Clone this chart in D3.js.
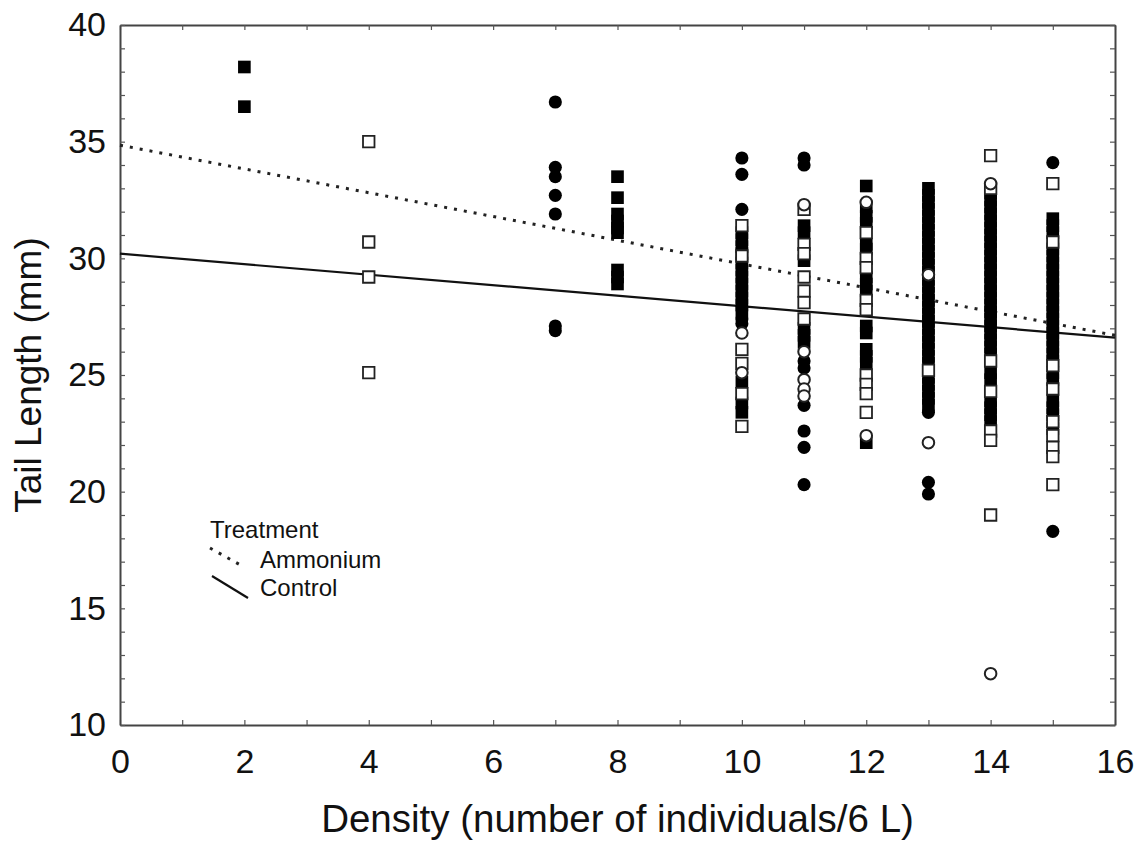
<!DOCTYPE html>
<html>
<head>
<meta charset="utf-8">
<script src="https://cdn.jsdelivr.net/npm/d3@7"></script>
<style>
    body { margin: 0; background: #fff; }
    svg { display: block; font-family: "Liberation Sans", Arial, sans-serif; }
</style>
</head>
<body>
<svg id="chart" width="1146" height="846"></svg>
<script>
// x = density (individuals / 6 L), y = tail length (mm)
var filledSquares = [
    [2, 38.2], [2, 36.5],
    [8, 33.5], [8, 32.6], [8, 31.9], [8, 31.6], [8, 31.3], [8, 31.1], [8, 29.5], [8, 29.2], [8, 28.9],
    [10, 31.1], [10, 30.8], [10, 30.5], [10, 30.2], [10, 29.8], [10, 29.5], [10, 29.2], [10, 28.9],
    [10, 28.6], [10, 28.3], [10, 28.0], [10, 27.7], [10, 24.7], [10, 23.8], [10, 23.4],
    [11, 31.4], [11, 31.1], [11, 29.9], [11, 27.0], [11, 26.7], [11, 26.4],
    [12, 33.1], [12, 32.2], [12, 31.8], [12, 31.5], [12, 30.6], [12, 30.4], [12, 29.2], [12, 28.9],
    [12, 28.6], [12, 27.1], [12, 26.8], [12, 26.1], [12, 25.8], [12, 25.5], [12, 22.1],
    [13, 33.0], [13, 32.7], [13, 32.4], [13, 32.1], [13, 31.8], [13, 31.5], [13, 31.2], [13, 30.9],
    [13, 30.6], [13, 30.3], [13, 30.0], [13, 29.7], [13, 29.4], [13, 29.1], [13, 28.8], [13, 28.5],
    [13, 28.2], [13, 27.9], [13, 27.6], [13, 27.3], [13, 27.0], [13, 26.7], [13, 26.4], [13, 26.1],
    [13, 25.8], [13, 25.5], [13, 25.2], [13, 24.9], [13, 24.6], [13, 24.3], [13, 24.0], [13, 23.7],
    [14, 32.8], [14, 32.5], [14, 32.2], [14, 31.9], [14, 31.6], [14, 31.3], [14, 31.0], [14, 30.7],
    [14, 30.4], [14, 30.1], [14, 29.8], [14, 29.5], [14, 29.2], [14, 28.9], [14, 28.6], [14, 28.3],
    [14, 28.0], [14, 27.7], [14, 27.4], [14, 27.1], [14, 26.8], [14, 26.5], [14, 26.2], [14, 25.9],
    [14, 25.1], [14, 24.8], [14, 23.9], [14, 23.6], [14, 23.3], [14, 23.0],
    [15, 31.7], [15, 31.4], [15, 31.1], [15, 30.4], [15, 30.1], [15, 29.8], [15, 29.5], [15, 29.2],
    [15, 28.9], [15, 28.6], [15, 28.3], [15, 28.0], [15, 27.7], [15, 27.4], [15, 27.1], [15, 26.8],
    [15, 26.5], [15, 26.2], [15, 25.9], [15, 25.6], [15, 25.1], [15, 24.8], [15, 23.9], [15, 23.6],
    [15, 23.3], [15, 22.7]
];

var openSquares = [
    [4, 35.0], [4, 30.7], [4, 29.2], [4, 25.1],
    [10, 31.4], [10, 30.1], [10, 26.1], [10, 25.5], [10, 24.2], [10, 22.8],
    [11, 32.1], [11, 30.6], [11, 30.2], [11, 29.2], [11, 28.6], [11, 28.1], [11, 27.4],
    [12, 31.1], [12, 30.0], [12, 29.6], [12, 28.2], [12, 27.8], [12, 25.0], [12, 24.6], [12, 24.2], [12, 23.4],
    [13, 25.2],
    [14, 34.4], [14, 33.0], [14, 25.6], [14, 24.3], [14, 22.6], [14, 22.2], [14, 19.0],
    [15, 33.2], [15, 30.7], [15, 25.4], [15, 24.4], [15, 23.0], [15, 22.4], [15, 21.9], [15, 21.5], [15, 20.3]
];

var filledCircles = [
    [7, 36.7], [7, 33.9], [7, 33.5], [7, 32.7], [7, 31.9], [7, 27.1], [7, 26.9],
    [10, 34.3], [10, 33.6], [10, 32.1], [10, 27.4], [10, 27.2],
    [11, 34.3], [11, 34.0], [11, 25.6], [11, 25.3], [11, 23.7], [11, 22.6], [11, 21.9], [11, 20.3],
    [13, 23.4], [13, 20.4], [13, 19.9],
    [15, 34.1], [15, 18.3]
];

var openCircles = [
    [10, 26.8], [10, 25.1],
    [11, 32.3], [11, 26.0], [11, 24.8], [11, 24.4], [11, 24.1],
    [12, 32.4], [12, 22.4],
    [13, 29.3], [13, 22.1],
    [14, 33.2], [14, 12.2]
];

// fitted regression lines, end points at density 0 and 16
var ammoniumFit = [[0, 34.85], [16, 26.7]];
var controlFit = [[0, 30.2], [16, 26.6]];

var xTicks = d3.range(0, 17, 1);
var yTicks = d3.range(10, 41, 1);

var svg = d3.select('#chart');
var plotLeft = 120, plotRight = 1115, plotTop = 25, plotBottom = 725;

var x = d3.scaleLinear().domain([0, 16]).range([plotLeft, plotRight]);
var y = d3.scaleLinear().domain([10, 40]).range([plotBottom, plotTop]);

svg.append('rect').attr('width', 1146).attr('height', 846).attr('fill', '#fff');

// frame + inward ticks on all four sides
function styleAxis(g)
{
    g.selectAll('.domain').attr('stroke', '#444').attr('stroke-width', 2);
    g.selectAll('.tick line').attr('stroke', '#555').attr('stroke-width', 1.2);
    g.selectAll('.tick text').attr('fill', '#111').attr('font-size', 34)
        .attr('font-family', '"Liberation Sans", Arial, sans-serif');
}

svg.append('g').attr('transform', 'translate(0,' + plotBottom + ')')
    .call(d3.axisBottom(x).tickValues(xTicks).tickSize(-5).tickSizeOuter(0).tickPadding(24)
        .tickFormat(function(d) { return d % 2 === 0 ? d : ''; }))
    .call(styleAxis);

svg.append('g').attr('transform', 'translate(0,' + plotTop + ')')
    .call(d3.axisTop(x).tickValues(xTicks).tickSize(-5).tickSizeOuter(0).tickFormat(''))
    .call(styleAxis);

svg.append('g').attr('transform', 'translate(' + plotLeft + ',0)')
    .call(d3.axisLeft(y).tickValues(yTicks).tickSize(-5).tickSizeOuter(0).tickPadding(14)
        .tickFormat(function(d) { return d % 5 === 0 ? d : ''; }))
    .call(styleAxis);

svg.append('g').attr('transform', 'translate(' + plotRight + ',0)')
    .call(d3.axisRight(y).tickValues(yTicks).tickSize(-5).tickSizeOuter(0).tickFormat(''))
    .call(styleAxis);

// regression lines
var line = d3.line()
    .x(function(d) { return x(d[0]); })
    .y(function(d) { return y(d[1]); });

svg.append('path').datum(ammoniumFit).attr('d', line)
    .attr('fill', 'none').attr('stroke', '#222').attr('stroke-width', 3)
    .attr('stroke-dasharray', '3,7');

svg.append('path').datum(controlFit).attr('d', line)
    .attr('fill', 'none').attr('stroke', '#111').attr('stroke-width', 2.2);

// points
function drawPoints(data, type, size, fill, stroke, strokeWidth)
{
    svg.append('g').selectAll('path').data(data).enter().append('path')
        .attr('transform', function(d) { return 'translate(' + x(d[0]) + ',' + y(d[1]) + ')'; })
        .attr('d', d3.symbol().type(type).size(size))
        .attr('fill', fill)
        .attr('stroke', stroke)
        .attr('stroke-width', strokeWidth);
}

drawPoints(filledSquares, d3.symbolSquare, 160, '#000', 'none', 0);
drawPoints(openSquares, d3.symbolSquare, 132, '#fff', '#222', 1.8);
drawPoints(filledCircles, d3.symbolCircle, 135, '#000', 'none', 0);
drawPoints(openCircles, d3.symbolCircle, 105, '#fff', '#222', 2);

// axis titles
svg.append('text')
    .attr('x', (plotLeft + plotRight) / 2).attr('y', 832)
    .attr('text-anchor', 'middle').attr('font-size', 38.5).attr('fill', '#111')
    .text('Density (number of individuals/6 L)');

svg.append('text')
    .attr('transform', 'translate(41,' + (plotTop + plotBottom) / 2 + ') rotate(-90)')
    .attr('text-anchor', 'middle').attr('font-size', 37).attr('fill', '#111')
    .text('Tail Length (mm)');

// legend
var legend = svg.append('g').attr('font-size', 24).attr('fill', '#111');
legend.append('text').attr('x', 210).attr('y', 538).text('Treatment');
legend.append('line').attr('x1', 210).attr('y1', 548).attr('x2', 244).attr('y2', 567)
    .attr('stroke', '#222').attr('stroke-width', 3).attr('stroke-dasharray', '3,7');
legend.append('text').attr('x', 260).attr('y', 568).text('Ammonium');
legend.append('line').attr('x1', 212).attr('y1', 576).attr('x2', 248).attr('y2', 598)
    .attr('stroke', '#111').attr('stroke-width', 2.2);
legend.append('text').attr('x', 260).attr('y', 596).text('Control');
</script>
</body>
</html>
